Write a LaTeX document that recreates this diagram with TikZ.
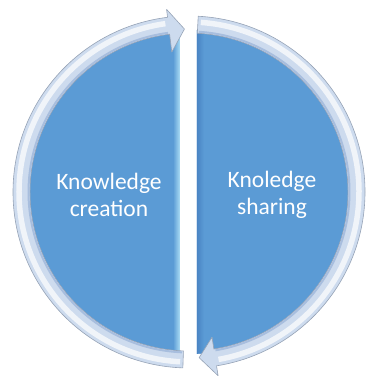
\documentclass[tikz,border=0pt]{standalone}
\usepackage{fontspec}
\setmainfont{Carlito}
\usetikzlibrary{calc}
\definecolor{diskblue}{RGB}{91,155,213}
\definecolor{edgelight}{RGB}{190,236,252}
\definecolor{edgedark}{RGB}{72,130,194}
\definecolor{ringfill}{RGB}{205,219,238}
\definecolor{ringinner}{RGB}{168,190,222}
\definecolor{ringedge}{RGB}{150,163,182}
\begin{document}
\begin{tikzpicture}[x=1pt,y=1pt,
  ring/.style={fill=ringfill,draw=ringedge,line width=0.6pt,line join=round},
  shine/.style={white,line width=5.5pt,opacity=0.7},
  innerline/.style={ringinner,line width=2pt},
  lbl/.style={text=white,align=center,font=\fontsize{23.5}{27}\selectfont}]
\useasboundingbox (0,0) rectangle (368,377);
\coordinate (c) at (189,185);

% left half disk, with a pale strip along its straight edge
\fill[diskblue] ($(c)+(93.2:162)$) arc[start angle=93.2,end angle=266.8,radius=162] -- cycle;
\begin{scope}
  \clip ($(c)+(93.2:162)$) arc[start angle=93.2,end angle=266.8,radius=162] -- cycle;
  \shade[left color=diskblue,right color=edgelight] (173,0) rectangle (181.5,377);
\end{scope}

% right half disk, with a darker strip along its straight edge
\fill[diskblue] ($(c)+(-87.2:162)$) arc[start angle=-87.2,end angle=87.2,radius=162] -- cycle;
\begin{scope}
  \clip ($(c)+(-87.2:162)$) arc[start angle=-87.2,end angle=87.2,radius=162] -- cycle;
  \shade[left color=edgedark,right color=diskblue] (196,0) rectangle (204,377);
\end{scope}

% left ring arrow, heading up and to the right at the top
\path[ring] ($(c)+(268:176)$) arc[start angle=268,end angle=97,radius=176]
  -- ($(c)+(97:184)$) -- ($(c)+(91.6:163)$) -- ($(c)+(97:141)$)
  -- ($(c)+(97:159)$) arc[start angle=97,end angle=268,radius=159] -- cycle;
\draw[innerline] ($(c)+(267.5:160.5)$) arc[start angle=267.5,end angle=97.5,radius=160.5];
\draw[shine] ($(c)+(267:170)$) arc[start angle=267,end angle=98,radius=170];

% right ring arrow, heading down and to the left at the bottom
\path[ring] ($(c)+(87:176)$) arc[start angle=87,end angle=-81,radius=176]
  -- ($(c)+(-81:186)$) -- ($(c)+(-86.5:166)$) -- ($(c)+(-81:147)$)
  -- ($(c)+(-81:159)$) arc[start angle=-81,end angle=87,radius=159] -- cycle;
\draw[innerline] ($(c)+(86.5:160.5)$) arc[start angle=86.5,end angle=-80.5,radius=160.5];
\draw[shine] ($(c)+(86:170)$) arc[start angle=86,end angle=-80,radius=170];

% labels
\node[lbl] (creation) at (109,182) {Knowledge\\creation};
\node[lbl] (sharing) at (272,182) {Knoledge\\sharing};
\end{tikzpicture}
\end{document}
